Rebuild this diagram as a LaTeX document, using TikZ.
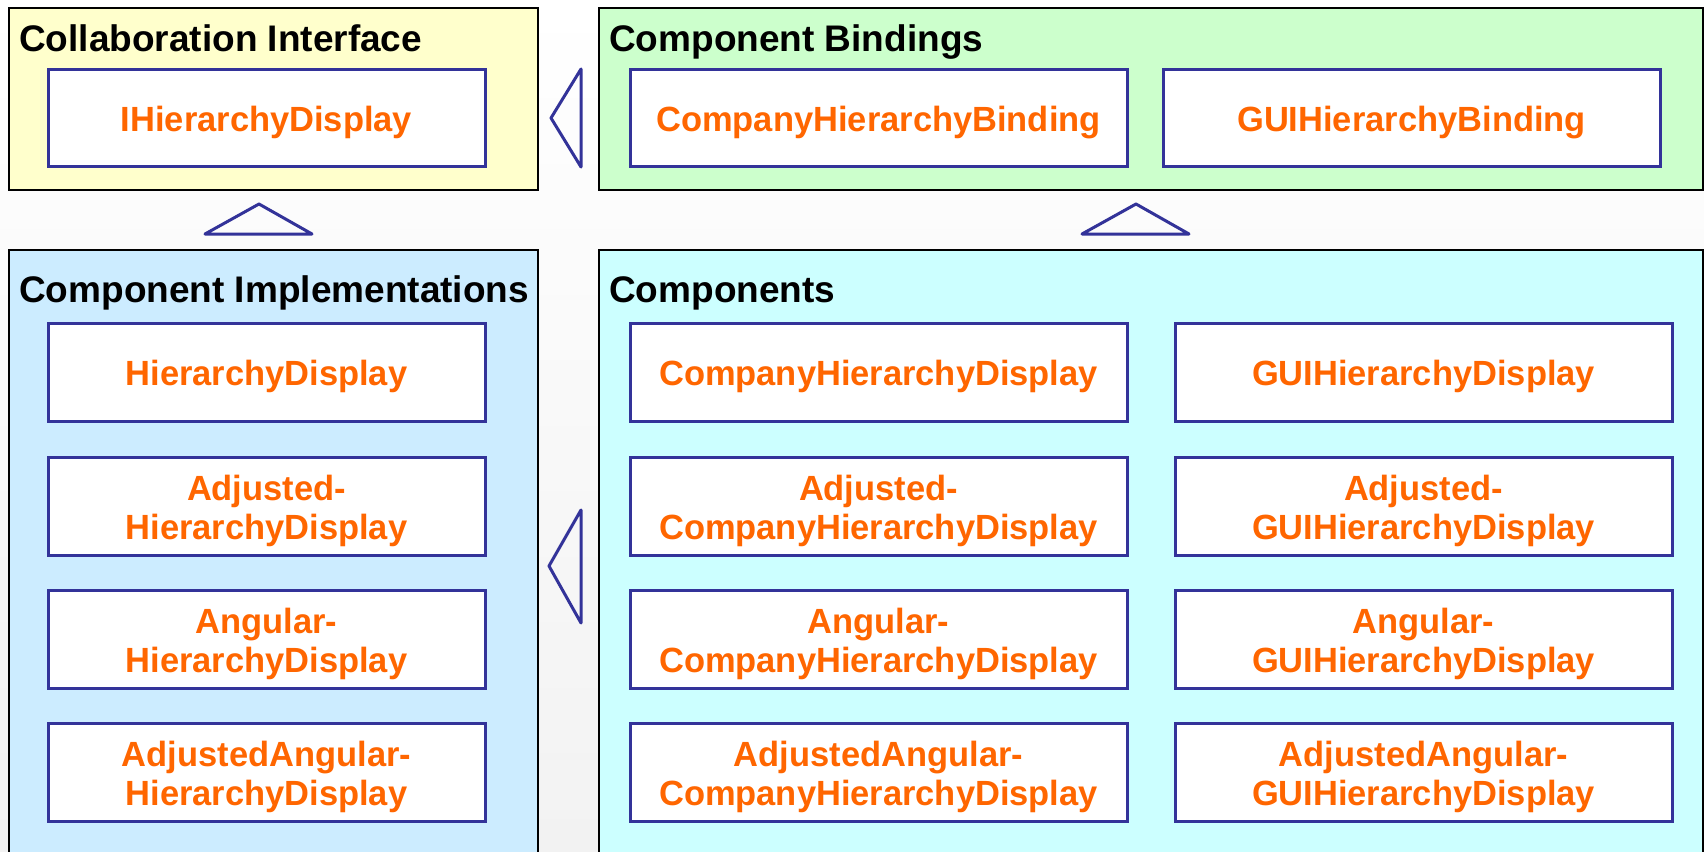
\documentclass[tikz,border=0pt]{standalone}
\usepackage{fontspec}
\setmainfont{Liberation Sans}
\newfontfamily\clsfont{Liberation Sans}[FakeStretch=0.985]
\definecolor{ifacefill}{HTML}{FFFFCC}
\definecolor{bindfill}{HTML}{CCFFCC}
\definecolor{implfill}{HTML}{CCECFF}
\definecolor{compfill}{HTML}{CCFFFF}
\definecolor{classblue}{HTML}{333399}
\definecolor{classtext}{HTML}{FF6600}
\definecolor{pagegray}{HTML}{F2F2F2}

% Class name block: lines stacked, box trimmed to cap height on top and
% to the last baseline below, so the lettering sits optically centred.
\newsavebox{\clsbox}
\newcommand{\clsname}[1]{%
  \sbox{\clsbox}{\begin{tabular}[b]{@{}c@{}}#1\end{tabular}}%
  \ht\clsbox=\dimexpr\ht\clsbox+0.5pt\relax
  \dp\clsbox=0pt
  \usebox{\clsbox}}

\tikzset{
  panel/.style={draw=black, line width=2pt, anchor=north west, inner sep=0pt},
  paneltitle/.style={anchor=base west, inner sep=0pt,
    font=\fontsize{37}{44}\selectfont\bfseries},
  classbox/.style={draw=classblue, fill=white, line width=3pt,
    minimum width=#1, minimum height=98pt, inner sep=0pt,
    text=classtext, font=\clsfont\fontsize{35}{39}\selectfont\bfseries},
  classbox/.default=437pt,
  inherit/.style={draw=classblue, line width=3pt, line join=round}
}

\begin{document}
\begin{tikzpicture}[x=1pt, y=-1pt]
\useasboundingbox (0,0) rectangle (1704,851);
\clip (0,0) rectangle (1704,851);
\shade[top color=white, bottom color=pagegray] (0,0) rectangle (1704,851);

% --- panels ---
\node[panel, fill=ifacefill, minimum width=529pt, minimum height=182pt] (iface) at (8,7) {};
\node[panel, fill=bindfill,  minimum width=1104pt, minimum height=182pt] (bind) at (598,7) {};
\node[panel, fill=implfill,  minimum width=529pt, minimum height=640pt] (impl) at (8,249) {};
\node[panel, fill=compfill,  minimum width=1104pt, minimum height=640pt] (comp) at (598,249) {};

\node[paneltitle] (ifaceT) at (19,52)  {Collaboration Interface};
\node[paneltitle] (bindT)  at (609,52) {Component Bindings};
\node[paneltitle] (implT)  at (19,302) {Component Implementations};
\node[paneltitle] (compT)  at (609,302) {Components};

% --- collaboration interface ---
\node[classbox, minimum height=97pt] (ihd) at (266.5,118) {\clsname{IHierarchyDisplay}};

% --- bindings ---
\node[classbox=497pt, minimum height=97pt] (chb) at (878.5,118)  {\clsname{CompanyHierarchyBinding}};
\node[classbox=497pt, minimum height=97pt] (ghb) at (1411.5,118) {\clsname{GUIHierarchyBinding}};

% --- implementations ---
\node[classbox] (hd)   at (266.5,372) {\clsname{HierarchyDisplay}};
\node[classbox] (ahd)  at (266.5,506) {\clsname{Adjusted-\\HierarchyDisplay}};
\node[classbox] (anhd) at (266.5,639) {\clsname{Angular-\\HierarchyDisplay}};
\node[classbox] (aahd) at (266.5,772) {\clsname{AdjustedAngular-\\HierarchyDisplay}};

% --- components ---
\node[classbox=497pt] (chd)   at (878.5,372) {\clsname{CompanyHierarchyDisplay}};
\node[classbox=497pt] (achd)  at (878.5,506) {\clsname{Adjusted-\\CompanyHierarchyDisplay}};
\node[classbox=497pt] (anchd) at (878.5,639) {\clsname{Angular-\\CompanyHierarchyDisplay}};
\node[classbox=497pt] (aachd) at (878.5,772) {\clsname{AdjustedAngular-\\CompanyHierarchyDisplay}};

\node[classbox=497pt] (ghd)   at (1423.5,372) {\clsname{GUIHierarchyDisplay}};
\node[classbox=497pt] (aghd)  at (1423.5,506) {\clsname{Adjusted-\\GUIHierarchyDisplay}};
\node[classbox=497pt] (anghd) at (1423.5,639) {\clsname{Angular-\\GUIHierarchyDisplay}};
\node[classbox=497pt] (aaghd) at (1423.5,772) {\clsname{AdjustedAngular-\\GUIHierarchyDisplay}};

% --- inheritance heads between panels ---
\draw[inherit] (581,69) -- (551,118) -- (581,167) -- cycle;
\draw[inherit] (581,510) -- (549,566) -- (581,623) -- cycle;
\draw[inherit] (205,234) -- (259,204) -- (312,234) -- cycle;
\draw[inherit] (1082,234) -- (1136,204) -- (1189,234) -- cycle;
\end{tikzpicture}
\end{document}
